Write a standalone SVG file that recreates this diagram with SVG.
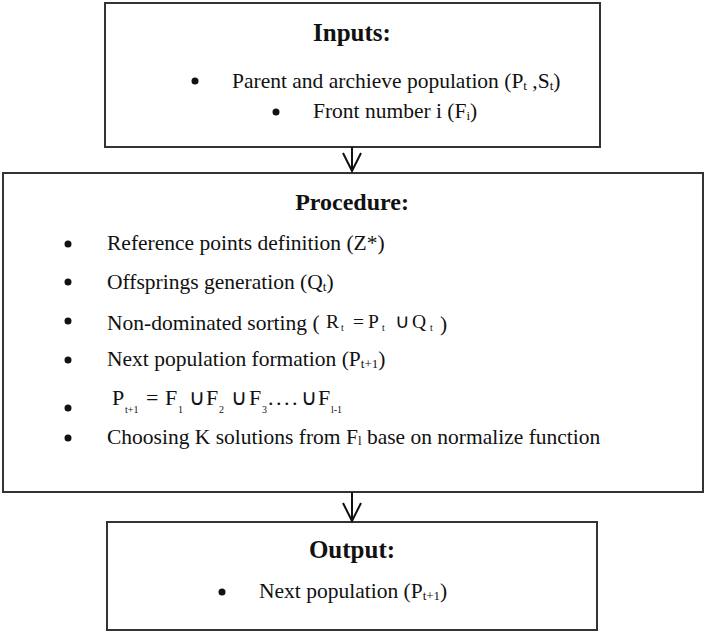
<svg xmlns="http://www.w3.org/2000/svg" width="706" height="633" viewBox="0 0 706 633">
<defs>
<style>
.box{fill:#fff;stroke:#333;stroke-width:2}
.t{font-family:"Liberation Serif","Times New Roman",serif;font-size:21.5px;fill:#111}
.h{font-family:"Liberation Serif","Times New Roman",serif;font-size:25px;font-weight:bold;fill:#111;text-anchor:middle}
.s{font-size:13px}
.f{font-family:"Liberation Serif","Times New Roman",serif;font-size:19.5px;fill:#111}
.fs{font-size:10px}
.b{fill:#111}
.c{stroke:#111;stroke-width:2;fill:none}
</style>
<marker id="v" markerUnits="userSpaceOnUse" markerWidth="24" markerHeight="24" viewBox="-20 -12 24 24" refX="0" refY="0" orient="auto" overflow="visible">
<path d="M-18,-9 L0,0 L-18,9" fill="none" stroke="#111" stroke-width="2"/>
</marker>
</defs>
<rect width="706" height="633" fill="#fff"/>

<g id="inputs">
<rect class="box" x="105" y="3" width="495" height="144"/>
<text class="h" x="352" y="41">Inputs:</text>
<circle class="b" cx="195" cy="81" r="3.5"/>
<text class="t" x="232" y="88">Parent and archieve population (P<tspan class="s" dy="2">t</tspan><tspan dy="-2"> ,S</tspan><tspan class="s" dy="2">t</tspan><tspan dy="-2">)</tspan></text>
<circle class="b" cx="276" cy="112" r="3.5"/>
<text class="t" x="313" y="118">Front number i (F<tspan class="s" dy="2">i</tspan><tspan dy="-2">)</tspan></text>
</g>

<g id="procedure">
<rect class="box" x="3" y="173" width="700" height="319"/>
<text class="h" x="352" y="210" style="font-size:24px">Procedure:</text>
<circle class="b" cx="68" cy="244" r="3.5"/>
<text class="t" x="107" y="250">Reference points definition (Z*)</text>
<circle class="b" cx="68" cy="282" r="3.5"/>
<text class="t" x="107" y="289">Offsprings generation (Q<tspan class="s" dy="2">t</tspan><tspan dy="-2">)</tspan></text>
<circle class="b" cx="68" cy="321" r="3.5"/>
<text class="t" x="107" y="330">Non-dominated sorting (</text>
<text class="f"><tspan x="326" y="328">R</tspan><tspan class="fs" x="341" y="331">t</tspan><tspan x="353" y="328">=</tspan><tspan x="368" y="328">P</tspan><tspan class="fs" x="382" y="331">t</tspan><tspan x="395" y="328">∪</tspan><tspan x="412" y="328">Q</tspan><tspan class="fs" x="430" y="331">t</tspan></text>
<text class="t" x="440" y="331">)</text>
<circle class="b" cx="68" cy="360" r="3.5"/>
<text class="t" x="107" y="366">Next population formation (P<tspan class="s" dy="2">t+1</tspan><tspan dy="-2">)</tspan></text>
<circle class="b" cx="68" cy="408" r="3.5"/>
<text class="f" style="font-size:22px"><tspan x="112" y="405">P</tspan><tspan class="fs" x="125" y="413">t+1</tspan><tspan x="146" y="405">=</tspan><tspan x="165" y="405">F</tspan><tspan class="fs" x="178" y="413">1</tspan><tspan x="189" y="405">∪</tspan><tspan x="206" y="405">F</tspan><tspan class="fs" x="219" y="413">2</tspan><tspan x="231" y="405">∪</tspan><tspan x="249" y="405">F</tspan><tspan class="fs" x="262" y="413">3</tspan><tspan x="268" y="405" letter-spacing="2.5">....</tspan><tspan x="301" y="405">∪</tspan><tspan x="318" y="405">F</tspan><tspan class="fs" x="331" y="413">l-1</tspan></text>
<circle class="b" cx="68" cy="438" r="3.5"/>
<text class="t" x="107" y="444">Choosing K solutions from F<tspan class="s" dy="1">l</tspan><tspan dy="-1"> base on normalize function</tspan></text>
</g>

<g id="output">
<rect class="box" x="107" y="522" width="490" height="108"/>
<text class="h" x="352" y="558">Output:</text>
<circle class="b" cx="222" cy="592" r="3.5"/>
<text class="t" x="259" y="598">Next population (P<tspan class="s" dy="2">t+1</tspan><tspan dy="-2">)</tspan></text>
</g>

<g id="connectors">
<line class="c" x1="352" y1="147" x2="352" y2="171" marker-end="url(#v)"/>
<line class="c" x1="352" y1="492" x2="352" y2="521" marker-end="url(#v)"/>
</g>
</svg>
